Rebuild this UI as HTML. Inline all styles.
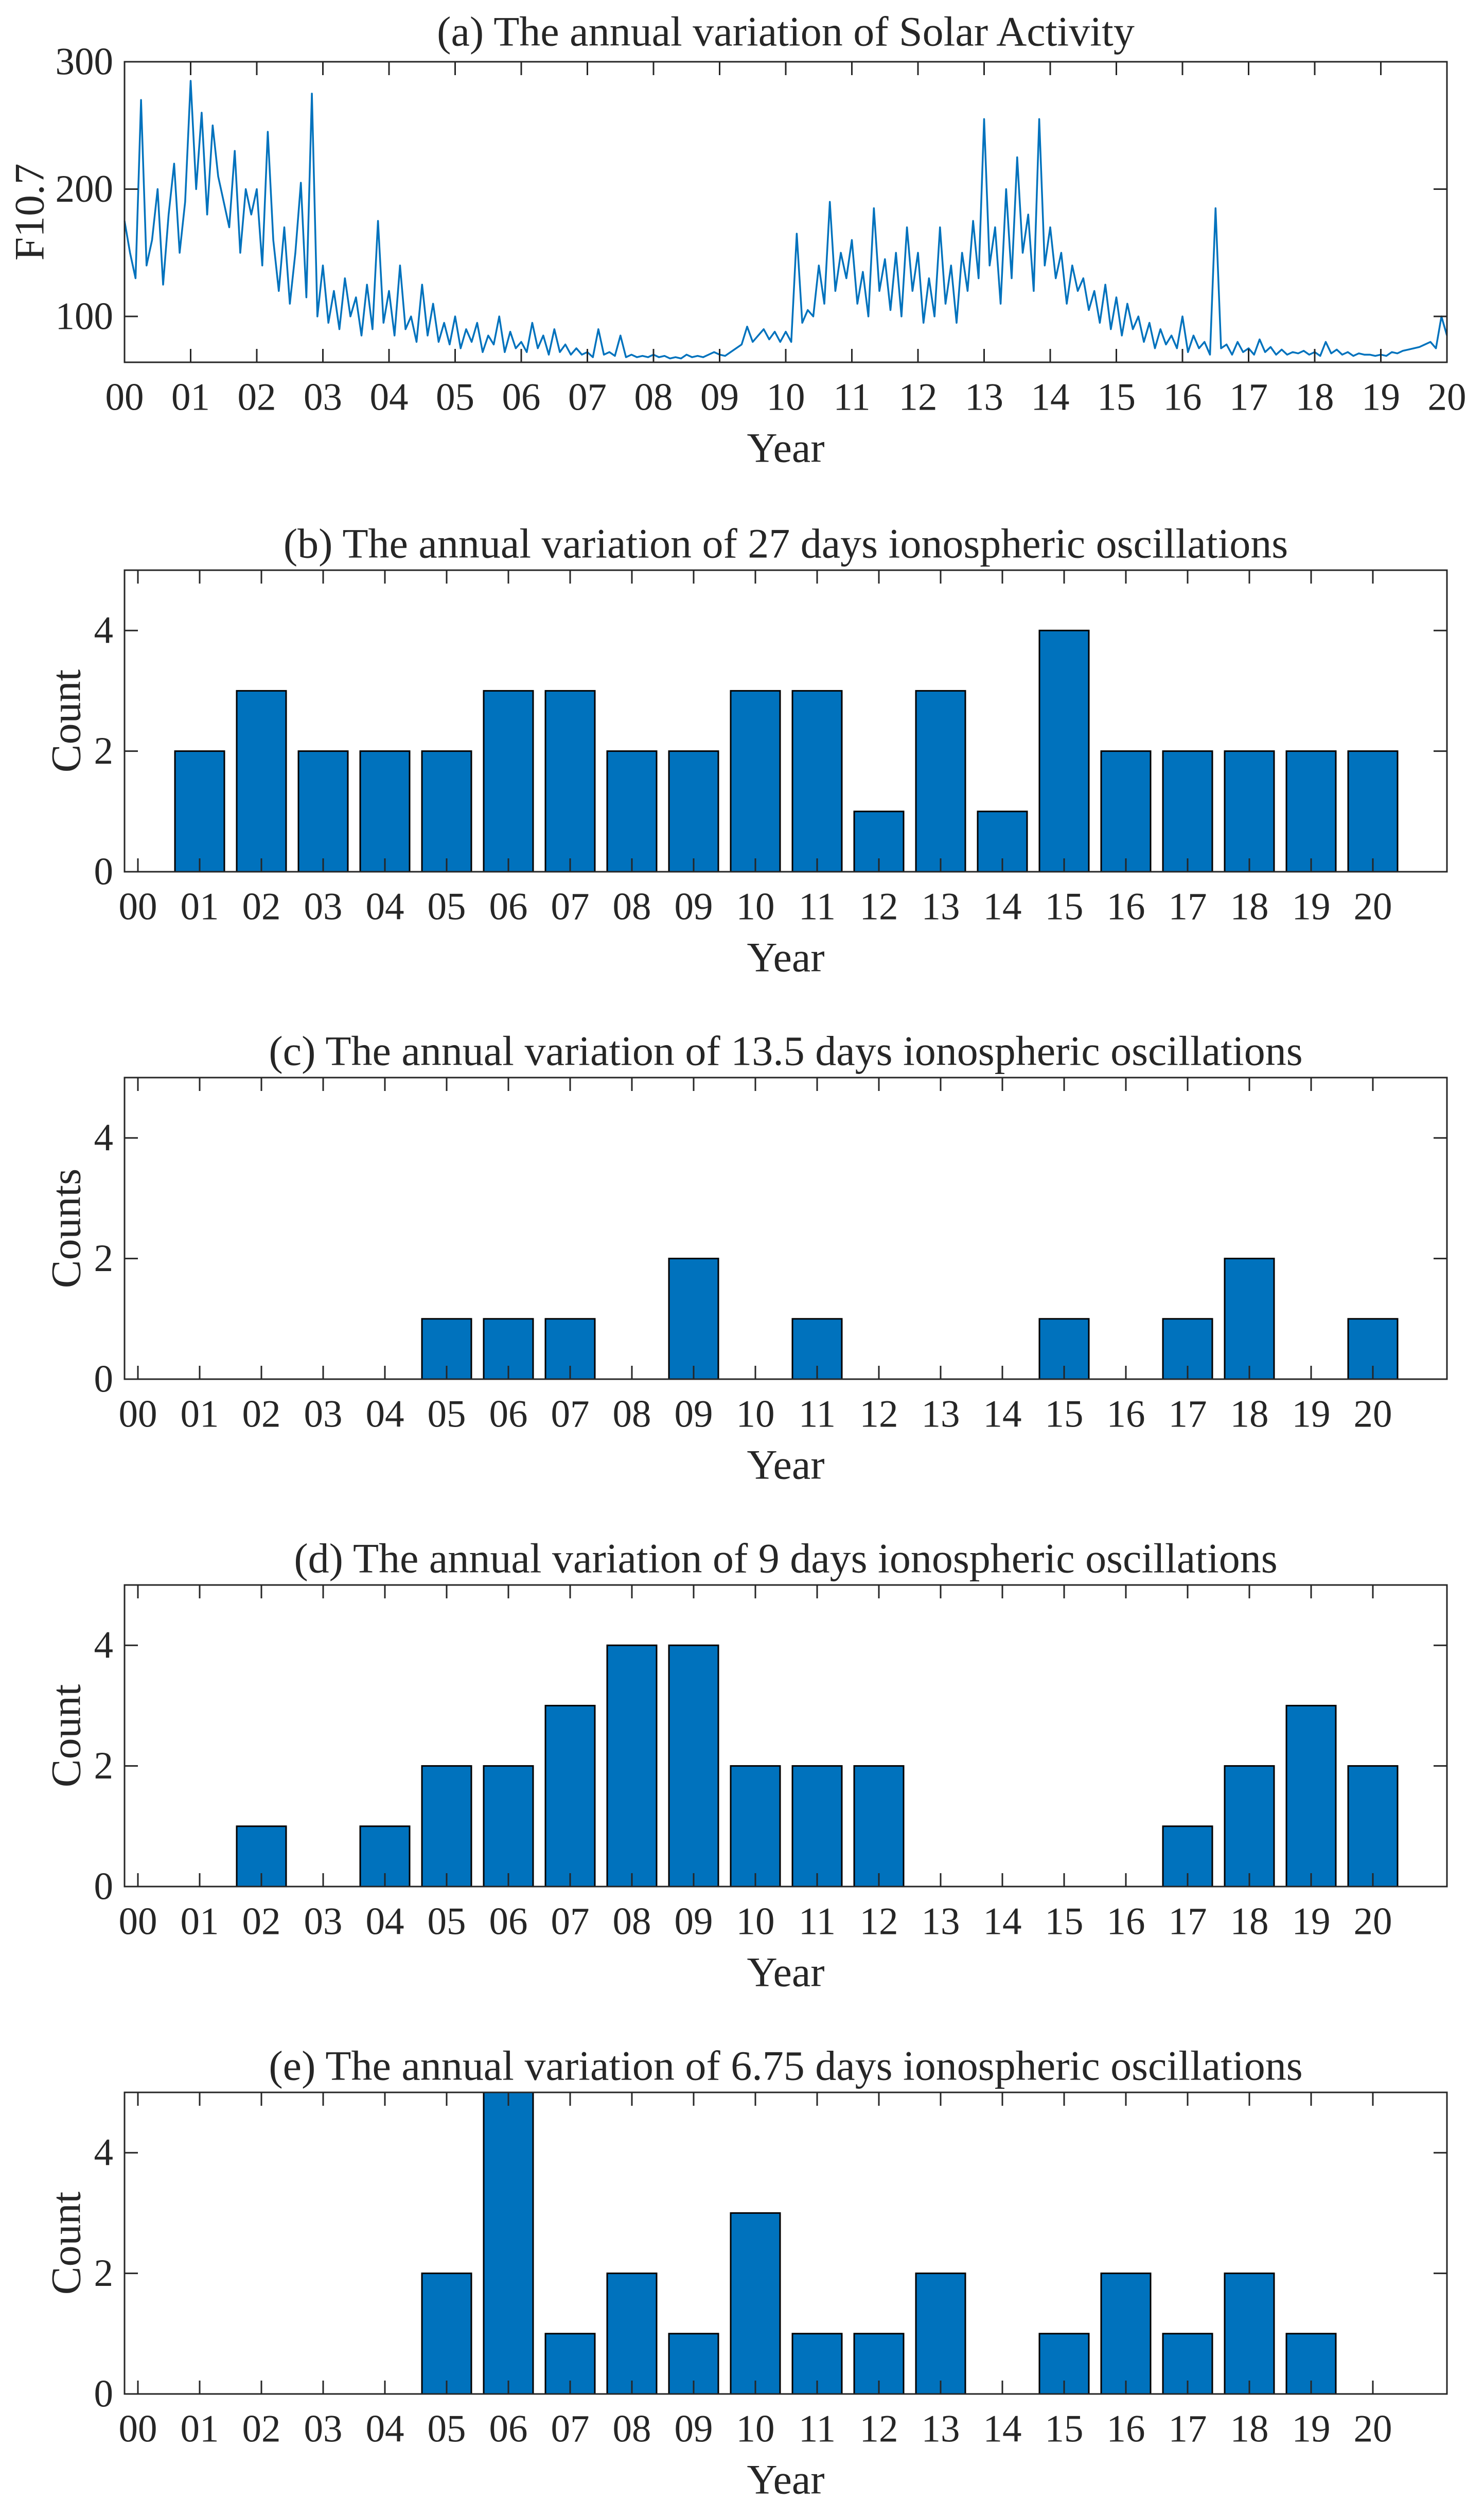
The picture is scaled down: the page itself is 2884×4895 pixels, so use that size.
<!DOCTYPE html>
<html><head><meta charset="utf-8">
<style>
html,body{margin:0;padding:0;background:#fff;}
svg{display:block;}
text{font-family:"Liberation Serif",serif;fill:#262626;}
</style></head>
<body>
<svg id="fig" width="2884" height="4895" viewBox="0 0 2884 4895" xmlns="http://www.w3.org/2000/svg"></svg>
<script>
// ---- Panel (a) data: F10.7 approx. monthly samples ----
const f107Start = 0;
const f107PerYear = 12;
const f107Values = [
175,150,130,270,140,160,200,125,180,220,150,190,
285,200,260,180,250,210,190,170,230,150,200,180,
200,140,245,160,120,170,110,150,205,115,275,100,
140,95,120,90,130,100,115,85,125,90,175,95,
120,85,140,90,100,80,125,85,110,80,95,78,
100,75,90,80,95,72,85,78,100,72,88,75,
80,72,95,75,85,70,90,72,78,70,75,70,
72,68,90,70,72,69,85,68,70,68,69,68,
70,68,69,67,68,67,70,68,69,68,70,72,
70,69,72,75,78,92,80,85,90,82,88,80,
88,80,165,95,105,100,140,110,190,120,150,130,
160,110,135,100,185,120,145,105,150,100,170,120,
150,95,130,100,170,110,140,95,150,120,175,130,
255,140,170,110,200,130,225,150,180,120,255,140,
170,130,150,110,140,120,130,105,120,95,125,90,
115,85,110,90,100,80,95,75,90,78,85,75,
100,72,85,75,80,70,185,75,78,70,80,72,
75,70,82,72,76,70,74,70,72,71,73,70,
72,69,80,71,74,70,72,69,71,70,70,69,
70,69,72,71,73,74,75,76,78,80,75,100,
85
];
const f107Ticks = [100,200,300];
const yearLabels = ["00","01","02","03","04","05","06","07","08","09","10","11","12","13","14","15","16","17","18","19","20"];
// ---- Bar panel data ----
const counts27 = [0,2,3,2,2,2,3,3,2,2,3,3,1,3,1,4,2,2,2,2,2];
const counts135 = [0,0,0,0,0,1,1,1,0,2,0,1,0,0,0,1,0,1,2,0,1];
const counts9 = [0,0,1,0,1,2,2,3,4,4,2,2,2,0,0,0,0,1,2,3,2];
const counts675 = [0,0,0,0,0,2,5,1,2,1,3,1,1,2,0,1,2,1,2,1,0];
const countTicks = [0,2,4];

const NS="http://www.w3.org/2000/svg";
const svg=document.getElementById('fig');
function mk(tag,attrs,parent){const e=document.createElementNS(NS,tag);for(const k in attrs)e.setAttribute(k,attrs[k]);(parent||svg).appendChild(e);return e;}
const L=242,R=2812,FS=75,TFS=82,TICK=26,BLUE="#0072BD";

function txt(g,x,y,s,anchor,name,rot,fs){
  const t=mk('text',{x:x,y:y,'font-size':fs||FS,'text-anchor':anchor||'middle','dominant-baseline':'central'},g);
  if(rot) t.setAttribute('transform','rotate(-90 '+x+' '+y+')');
  t.textContent=s;
  
  
  return t;
}

function axesFrame(g,top,bot,xs,yTicks,yfun){
  const box=mk('rect',{x:L,y:top,width:R-L,height:bot-top,fill:'none',stroke:'#262626','stroke-width':3},g);
  
  
  xs.forEach((x,i)=>{
    mk('line',{x1:x,y1:bot,x2:x,y2:bot-TICK,stroke:'#262626','stroke-width':3},g);
    mk('line',{x1:x,y1:top,x2:x,y2:top+TICK,stroke:'#262626','stroke-width':3},g);
    txt(g,x,bot+68,yearLabels[i],'middle','x-tick-label');
  });
  yTicks.forEach(v=>{
    const y=yfun(v);
    mk('line',{x1:L,y1:y,x2:L+TICK,y2:y,stroke:'#262626','stroke-width':3},g);
    mk('line',{x1:R,y1:y,x2:R-TICK,y2:y,stroke:'#262626','stroke-width':3},g);
    txt(g,220,y,String(v),'end','y-tick-label');
  });
  txt(g,(L+R)/2,bot+166,'Year','middle','x-axis-title',false,TFS);
}

// ---- Panel (a) ----
(function(){
  const g=mk('g',{});
  
  
  const top=120,bot=704,ymin=64,ymax=300;
  const xs=yr=>L+(R-L)*yr/20;
  const ys=v=>bot-(v-ymin)/(ymax-ymin)*(bot-top);
  let d='';
  f107Values.forEach((v,i)=>{const x=xs(f107Start+i/f107PerYear);d+=(i?'L':'M')+x.toFixed(1)+' '+ys(v).toFixed(1);});
  const p=mk('path',{d:d,fill:'none',stroke:BLUE,'stroke-width':3.5,'stroke-linejoin':'round'},g);
  
  
  axesFrame(g,top,bot,yearLabels.map((s,i)=>xs(i)),f107Ticks,ys);
  txt(g,57,(top+bot)/2,'F10.7','middle','y-axis-title',true,TFS);
  txt(g,(L+R)/2,61,'(a) The annual variation of Solar Activity','middle','panel-title',false,TFS);
})();

// ---- Bar panels ----
const barPanels=[
  {top:1108,data:counts27,title:'(b) The annual variation of 27 days ionospheric oscillations',yl:'Count',name:'panel-b-27-days'},
  {top:2094,data:counts135,title:'(c) The annual variation of 13.5 days ionospheric oscillations',yl:'Counts',name:'panel-c-13-5-days'},
  {top:3080,data:counts9,title:'(d) The annual variation of 9 days ionospheric oscillations',yl:'Count',name:'panel-d-9-days'},
  {top:4066,data:counts675,title:'(e) The annual variation of 6.75 days ionospheric oscillations',yl:'Count',name:'panel-e-6-75-days'}
];
barPanels.forEach(P=>{
  const g=mk('g',{});
  
  
  const top=P.top,bot=top+586;
  const xs=i=>268+120*i;
  const ys=v=>bot-v/5*(bot-top);
  const bw=96;
  P.data.forEach((v,i)=>{
    if(v<=0) return;
    const y=ys(Math.min(v,5));
    const r=mk('rect',{x:xs(i)-bw/2,y:y,width:bw,height:bot-y,fill:BLUE,stroke:'#000','stroke-width':3},g);
    
    
  });
  axesFrame(g,top,bot,yearLabels.map((s,i)=>xs(i)),countTicks,ys);
  txt(g,128,(top+bot)/2,P.yl,'middle','y-axis-title',true,TFS);
  txt(g,(L+R)/2,top-52,P.title,'middle','panel-title',false,TFS);
});
</script>
</body></html>
